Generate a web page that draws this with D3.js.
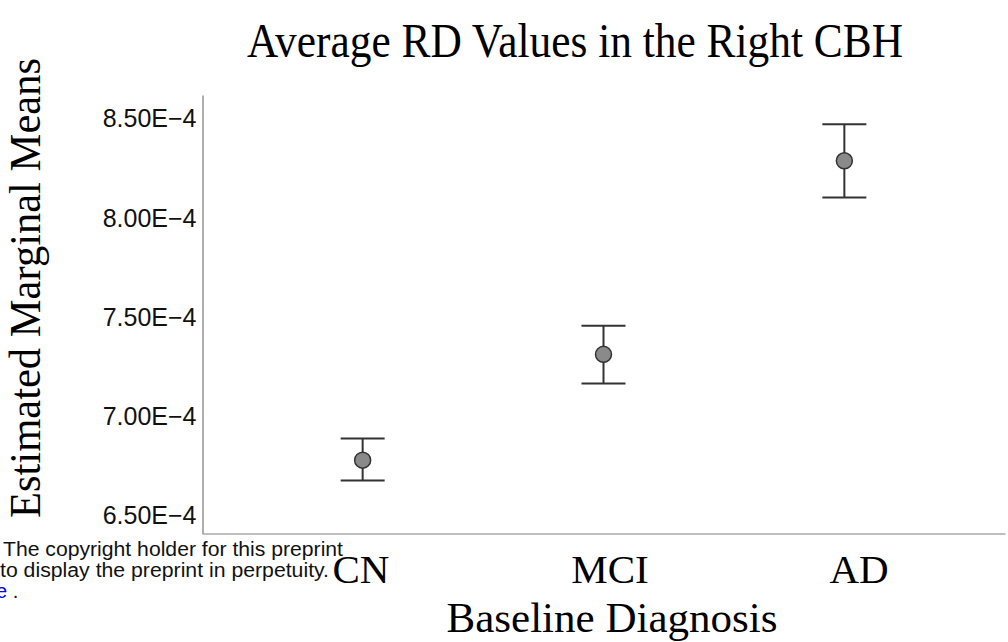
<!DOCTYPE html>
<html>
<head>
<meta charset="utf-8">
<script src="https://cdn.jsdelivr.net/npm/d3@7"></script>
<style>
  body { margin: 0; background: #fff; }
  svg { display: block; }
</style>
</head>
<body>
<svg id="chart"></svg>
<script>
// group means and error bar ends, in units of 1E-4
var groups = ["CN", "MCI", "AD"];
var means = [6.778, 7.312, 8.289];
var lower = [6.675, 7.165, 8.104];
var upper = [6.887, 7.456, 8.473];
var yTicks = [6.5, 7.0, 7.5, 8.0, 8.5];

var width = 1008,
    height = 642;

var serif = "'Liberation Serif', 'Times New Roman', serif";
var sans = "'Liberation Sans', Arial, sans-serif";

var svg = d3.select("#chart")
    .attr("width", width)
    .attr("height", height);

var x = d3.scalePoint()
    .domain(groups)
    .range([202, 1005])
    .padding(0.667);

// category labels sit slightly right of the markers in the original
var xLabel = d3.scalePoint()
    .domain(groups)
    .range([361, 859]);

var y = d3.scaleLinear()
    .domain([6.408, 8.621])
    .range([533.5, 95]);

// y axis: line only, labels to the left
var yAxis = d3.axisLeft(y)
    .tickValues(yTicks)
    .tickSize(0)
    .tickPadding(6)
    .tickFormat(function(d) { return d.toFixed(2) + "E\u22124"; });

var gy = svg.append("g")
    .attr("transform", "translate(202.5,0)")
    .call(yAxis);
gy.select(".domain").attr("stroke", "#777").attr("stroke-width", 1.2);
gy.selectAll("text")
    .style("font-family", sans)
    .style("font-size", "25px")
    .attr("fill", "#111");

var xAxis = d3.axisBottom(x).tickSize(0).tickFormat("");
var gx = svg.append("g")
    .attr("transform", "translate(0,533.5)")
    .call(xAxis);
gx.select(".domain").attr("stroke", "#aaa").attr("stroke-width", 1.5);

// category labels
svg.selectAll(".cat")
    .data(groups).enter()
    .append("text")
    .attr("class", "cat")
    .attr("x", function(d) { return xLabel(d); })
    .attr("y", 583)
    .attr("text-anchor", "middle")
    .style("font-family", serif)
    .style("font-size", "41px")
    .text(function(d) { return d; });

// error bars
var bars = svg.append("g").selectAll("g")
    .data(groups).enter()
    .append("g")
    .attr("stroke", "#333")
    .attr("stroke-width", 2);

bars.append("line")
    .attr("x1", function(d) { return x(d); })
    .attr("x2", function(d) { return x(d); })
    .attr("y1", function(d, i) { return y(upper[i]); })
    .attr("y2", function(d, i) { return y(lower[i]); });
bars.append("line")
    .attr("x1", function(d) { return x(d) - 22; })
    .attr("x2", function(d) { return x(d) + 22; })
    .attr("y1", function(d, i) { return y(upper[i]); })
    .attr("y2", function(d, i) { return y(upper[i]); });
bars.append("line")
    .attr("x1", function(d) { return x(d) - 22; })
    .attr("x2", function(d) { return x(d) + 22; })
    .attr("y1", function(d, i) { return y(lower[i]); })
    .attr("y2", function(d, i) { return y(lower[i]); });

svg.append("g").selectAll("circle")
    .data(groups).enter()
    .append("circle")
    .attr("cx", function(d) { return x(d); })
    .attr("cy", function(d, i) { return y(means[i]); })
    .attr("r", 8)
    .attr("fill", "#8a8a8a")
    .attr("stroke", "#333")
    .attr("stroke-width", 1.5);

// titles
svg.append("text")
    .attr("x", 247)
    .attr("y", 57)
    .attr("textLength", 656)
    .attr("lengthAdjust", "spacingAndGlyphs")
    .style("font-family", serif)
    .style("font-size", "48px")
    .text("Average RD Values in the Right CBH");

svg.append("text")
    .attr("x", 612)
    .attr("y", 632)
    .attr("text-anchor", "middle")
    .style("font-family", serif)
    .style("font-size", "43px")
    .text("Baseline Diagnosis");

svg.append("text")
    .attr("transform", "translate(40,518) rotate(-90)")
    .attr("textLength", 460)
    .attr("lengthAdjust", "spacingAndGlyphs")
    .style("font-family", serif)
    .style("font-size", "45px")
    .text("Estimated Marginal Means");

// preprint watermark bits overlapping the page
var note = svg.append("g")
    .style("font-family", sans)
    .style("font-size", "20px")
    .attr("fill", "#111");
note.append("text").attr("x", 3).attr("y", 556)
    .attr("textLength", 340).attr("lengthAdjust", "spacingAndGlyphs")
    .text("The copyright holder for this preprint");
note.append("text").attr("x", 0).attr("y", 577)
    .attr("textLength", 329).attr("lengthAdjust", "spacingAndGlyphs")
    .text("to display the preprint in perpetuity.");
var last = note.append("text").attr("x", -4).attr("y", 598);
last.append("tspan").attr("fill", "#0000ee").text("e");
last.append("tspan").text(" .");
</script>
</body>
</html>
